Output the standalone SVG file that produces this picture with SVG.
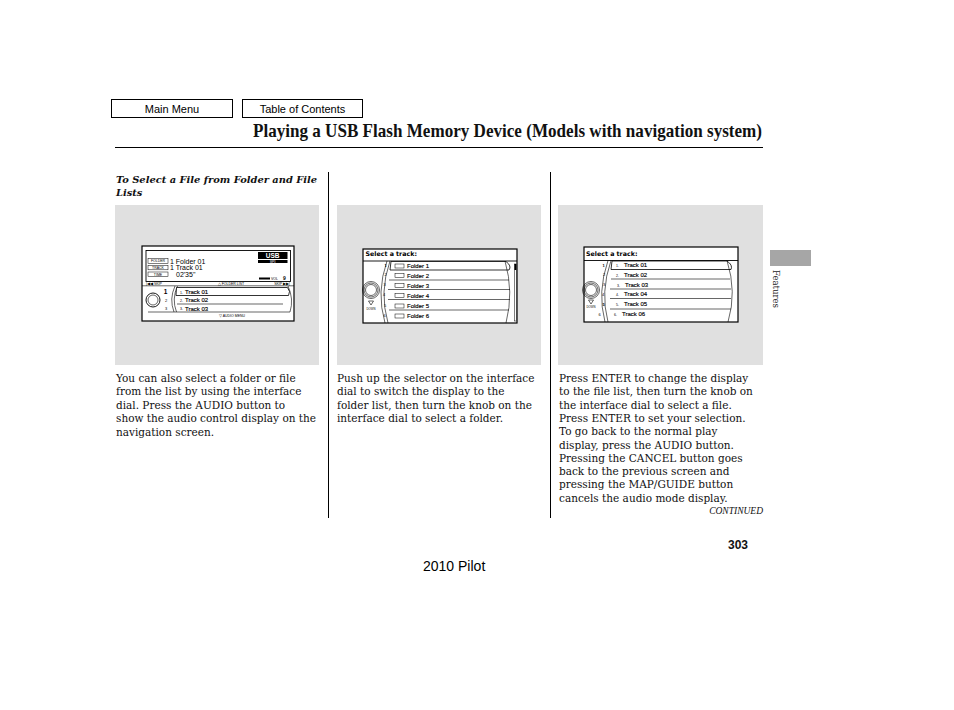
<svg xmlns="http://www.w3.org/2000/svg" width="954" height="710" viewBox="0 0 954 710">
<style>
.body{font-family:"DejaVu Serif","Liberation Serif",serif;font-size:10.5px;fill:#111}
.btn{fill:#fff;stroke:#000;stroke-width:1}
.btnt{font-family:"Liberation Sans",Arial,sans-serif;font-size:11px;text-anchor:middle;fill:#000}
.panel{fill:#e0e0e0}
.div{stroke:#000;stroke-width:1}
.scr{fill:#fff;stroke:#000;stroke-width:1.2}
.st{font-family:"Liberation Sans",Arial,sans-serif;font-size:6px;fill:#000;stroke:#000;stroke-width:0.15}
.sb{font-family:"DejaVu Sans","Liberation Sans",sans-serif;font-size:6.3px;font-weight:bold;fill:#000}
.tiny{font-family:"Liberation Sans",Arial,sans-serif;font-size:3.5px;fill:#000}
.num{font-family:"Liberation Sans",Arial,sans-serif;font-size:4px;fill:#000;text-anchor:middle}
.ln{stroke:#000;stroke-width:0.6;fill:none}
.lb{stroke:#000;stroke-width:0.9;fill:none}
.row{fill:#fff;stroke:#000;stroke-width:0.8}
.ic{fill:#fff;stroke:#000;stroke-width:0.5}
</style>
<rect width="954" height="710" fill="#fff"/>

<g id="header">
  <rect class="btn" x="111.5" y="99.5" width="121" height="18"/>
  <text class="btnt" x="172" y="112.5">Main Menu</text>
  <rect class="btn" x="242.5" y="99.5" width="120" height="18"/>
  <text class="btnt" x="302.5" y="112.5">Table of Contents</text>
  <text x="762" y="137" text-anchor="end" textLength="509" lengthAdjust="spacingAndGlyphs" font-family="Liberation Serif, serif" font-size="19" font-weight="bold" fill="#111">Playing a USB Flash Memory Device (Models with navigation system)</text>
  <line x1="115" y1="147.5" x2="763" y2="147.5" stroke="#000" stroke-width="1"/>
</g>

<g id="subheading">
  <text font-family="DejaVu Serif, Liberation Serif, serif" font-size="9.9" font-weight="bold" font-style="italic" fill="#111">
    <tspan x="116" y="183">To Select a File from Folder and File</tspan>
    <tspan x="116" y="196">Lists</tspan>
  </text>
</g>

<g id="dividers">
  <line class="div" x1="328.5" y1="172" x2="328.5" y2="518"/>
  <line class="div" x1="550.5" y1="172" x2="550.5" y2="518"/>
</g>

<g id="tab">
  <rect x="770" y="250" width="41" height="16" fill="#a6a6a6"/>
  <text transform="translate(773,270) rotate(90)" font-family="DejaVu Serif, Liberation Serif, serif" font-size="8.5" fill="#222">Features</text>
</g>

<!-- Panel 1 -->
<g id="panel1">
  <rect class="panel" x="115" y="205" width="204" height="160"/>
  <rect class="scr" x="142" y="246" width="152" height="75"/>
  <rect class="lb" x="146" y="250.5" width="144.5" height="31" stroke-width="0.8"/>
  <rect x="258" y="252" width="29.5" height="7" fill="#000"/>
  <text x="272.7" y="258.3" text-anchor="middle" font-family="Liberation Sans, sans-serif" font-size="6.5" font-weight="bold" fill="#fff">USB</text>
  <rect x="258" y="260" width="29.5" height="3" fill="#000"/>
  <text x="272.7" y="262.6" text-anchor="middle" font-family="Liberation Sans, sans-serif" font-size="2.6" fill="#fff">MP3</text>
  <rect class="ic" x="148" y="258.5" width="20" height="5"/>
  <text class="tiny" x="158" y="262.2" text-anchor="middle">FOLDER</text>
  <rect class="ic" x="148" y="265.3" width="20" height="4.5"/>
  <text class="tiny" x="158" y="268.8" text-anchor="middle">TRACK</text>
  <rect class="ic" x="148" y="272" width="20" height="4.5"/>
  <text class="tiny" x="158" y="275.5" text-anchor="middle">TIME</text>
  <text x="170" y="263.5" font-family="Liberation Sans, sans-serif" font-size="7">1 Folder 01</text>
  <text x="170" y="270" font-family="Liberation Sans, sans-serif" font-size="7">1 Track 01</text>
  <text x="176" y="276.5" font-family="Liberation Sans, sans-serif" font-size="7">02'35"</text>
  <rect x="259" y="277.5" width="11" height="2" fill="#000"/>
  <text class="tiny" x="271" y="279.8">VOL</text>
  <text x="283" y="280" font-family="Liberation Sans, sans-serif" font-size="5" font-weight="bold">9</text>
  <text class="tiny" x="146" y="284.8">|◀◀ SKIP</text>
  <text class="tiny" x="290" y="284.8" text-anchor="end">SKIP ▶▶|</text>
  <text class="tiny" x="231" y="284.8" text-anchor="middle">△ FOLDER LIST</text>
  <line class="ln" x1="142" y1="285.8" x2="294" y2="285.8"/>
  <circle class="lb" cx="153" cy="300" r="7"/>
  <circle class="ln" cx="153" cy="300" r="5"/>
  <text x="165.5" y="294" font-family="Liberation Sans, sans-serif" font-size="6.5" font-weight="bold" text-anchor="middle">1</text>
  <text class="num" x="166" y="302">2</text>
  <text class="num" x="166" y="310.3">3</text>
  <path class="ln" d="M175,286 Q169,299 174,312"/>
  <path class="ln" d="M177.5,286 Q171.5,299 176.5,312"/>
  <path class="row" d="M176.5,287.5 L287.5,287.5 Q291,291.5 288.5,295.5 L176,295.5 Z"/>
  <line class="ln" x1="177" y1="304" x2="283" y2="304"/>
  <path class="ln" d="M288,286 Q294,299 290,312"/>
  <line class="ln" x1="148" y1="312" x2="290" y2="312"/>
  <text class="tiny" x="180" y="293.5">1.</text>
  <text class="st" x="185" y="293.9">Track 01</text>
  <text class="tiny" x="180" y="302">2.</text>
  <text class="st" x="185" y="302.2">Track 02</text>
  <text class="tiny" x="180" y="310.2">3.</text>
  <text class="st" x="185" y="310.5">Track 03</text>
  <text class="tiny" x="232" y="317" text-anchor="middle">▽ AUDIO MENU</text>
  <text class="body">
    <tspan x="116" y="382">You can also select a folder or file</tspan>
    <tspan x="116" y="395.4">from the list by using the interface</tspan>
    <tspan x="116" y="408.8">dial. Press the AUDIO button to</tspan>
    <tspan x="116" y="422.2">show the audio control display on the</tspan>
    <tspan x="116" y="435.6">navigation screen.</tspan>
  </text>
</g>

<!-- Panel 2 -->
<g id="panel2">
  <rect class="panel" x="337" y="205" width="204" height="160"/>
  <rect class="scr" x="363" y="249" width="154" height="74"/>
  <text class="sb" x="365.5" y="256">Select a track:</text>
  <line class="lb" x1="363" y1="261" x2="517" y2="261"/>
  <circle class="ln" cx="371" cy="290" r="8.5"/>
  <circle class="ln" cx="371" cy="290" r="7"/>
  <circle class="ln" cx="371" cy="290" r="5.5"/>
  <path class="ln" d="M368.5,301 L373.5,301 L371,305 Z"/>
  <text x="371" y="309.5" text-anchor="middle" font-family="Liberation Sans, sans-serif" font-size="2.8">DOWN</text>
  <text class="num" x="385.5" y="266.5" font-weight="bold">1</text>
  <text class="num" x="385.5" y="276">2</text>
  <text class="num" x="384.5" y="286">3</text>
  <text class="num" x="384" y="296">4</text>
  <text class="num" x="385" y="306.5">5</text>
  <text class="num" x="384.5" y="317">6</text>
  <path class="ln" d="M387,261 Q376,292 385,323"/>
  <path class="ln" d="M390,261 Q379,292 388,323"/>
  <path class="row" d="M391,261.5 L506,261.5 Q512,266 509,270 L390,270 Z"/>
  <line class="ln" x1="389" y1="280" x2="509" y2="280"/>
  <line class="ln" x1="388" y1="289.5" x2="510" y2="289.5"/>
  <line class="ln" x1="388" y1="299.5" x2="510" y2="299.5"/>
  <line class="ln" x1="389" y1="310" x2="509" y2="310"/>
  <path class="ln" d="M505,261 Q514,292 506,323"/>
  <rect class="ic" x="514.5" y="264" width="1.8" height="57"/>
  <rect x="514.5" y="264" width="1.8" height="6" fill="#000"/>
  <rect class="ic" x="395" y="264" width="9" height="4"/>
  <rect class="ic" x="395" y="273.7" width="9" height="4"/>
  <rect class="ic" x="395" y="283.3" width="9" height="4"/>
  <rect class="ic" x="395" y="293.3" width="9" height="4"/>
  <rect class="ic" x="395" y="304" width="9" height="4"/>
  <rect class="ic" x="395" y="314" width="9" height="4"/>
  <text class="st" x="407" y="268.2">Folder 1</text>
  <text class="st" x="407" y="277.9">Folder 2</text>
  <text class="st" x="407" y="287.5">Folder 3</text>
  <text class="st" x="407" y="297.5">Folder 4</text>
  <text class="st" x="407" y="308.2">Folder 5</text>
  <text class="st" x="407" y="318.2">Folder 6</text>
  <text class="body">
    <tspan x="337" y="382">Push up the selector on the interface</tspan>
    <tspan x="337" y="395.4">dial to switch the display to the</tspan>
    <tspan x="337" y="408.8">folder list, then turn the knob on the</tspan>
    <tspan x="337" y="422.2">interface dial to select a folder.</tspan>
  </text>
</g>

<!-- Panel 3 -->
<g id="panel3">
  <rect class="panel" x="558" y="205" width="205" height="160"/>
  <rect class="scr" x="584" y="247" width="154" height="75"/>
  <text class="sb" x="586" y="255.5">Select a track:</text>
  <line class="lb" x1="584" y1="260.5" x2="738" y2="260.5"/>
  <circle class="ln" cx="591" cy="290" r="8.5"/>
  <circle class="ln" cx="591" cy="290" r="7"/>
  <circle class="ln" cx="591" cy="290" r="5.5"/>
  <path class="ln" d="M588.5,300 L593.5,300 L591,304 Z"/>
  <text x="591" y="307.5" text-anchor="middle" font-family="Liberation Sans, sans-serif" font-size="2.8">DOWN</text>
  <text class="num" x="603.5" y="266.5" font-weight="bold">1</text>
  <text class="num" x="604" y="276">2</text>
  <text class="num" x="604" y="286">3</text>
  <text class="num" x="603" y="295.7">4</text>
  <text class="num" x="603.5" y="305.7" font-weight="bold">5</text>
  <text class="num" x="599.5" y="315.7">6</text>
  <path class="ln" d="M608,260.5 Q597,292 605,322"/>
  <path class="ln" d="M611,260.5 Q600,292 608,322"/>
  <path class="row" d="M612,261 L727,261 Q733,265 731,269.5 L611,269.5 Z"/>
  <line class="ln" x1="611" y1="279" x2="730" y2="279"/>
  <line class="ln" x1="610" y1="289" x2="731" y2="289"/>
  <line class="ln" x1="610" y1="298.5" x2="731" y2="298.5"/>
  <line class="ln" x1="610" y1="309" x2="731" y2="309"/>
  <path class="ln" d="M727,260.5 Q737,292 728,322"/>
  <text class="tiny" x="616" y="266.5">1.</text>
  <text class="tiny" x="616" y="276.5">2.</text>
  <text class="tiny" x="617" y="286.5">3.</text>
  <text class="tiny" x="616" y="296.2">4.</text>
  <text class="tiny" x="616" y="306.2">5.</text>
  <text class="tiny" x="614" y="316.2">6.</text>
  <text class="st" x="624" y="266.5">Track 01</text>
  <text class="st" x="624" y="276.5">Track 02</text>
  <text class="st" x="625" y="286.5">Track 03</text>
  <text class="st" x="624" y="296.2">Track 04</text>
  <text class="st" x="624" y="306.2">Track 05</text>
  <text class="st" x="622" y="316.2">Track 06</text>
  <text class="body">
    <tspan x="559" y="382">Press ENTER to change the display</tspan>
    <tspan x="559" y="395.3">to the file list, then turn the knob on</tspan>
    <tspan x="559" y="408.6">the interface dial to select a file.</tspan>
    <tspan x="559" y="421.9">Press ENTER to set your selection.</tspan>
    <tspan x="559" y="435.2">To go back to the normal play</tspan>
    <tspan x="559" y="448.5">display, press the AUDIO button.</tspan>
    <tspan x="559" y="461.8">Pressing the CANCEL button goes</tspan>
    <tspan x="559" y="475.1">back to the previous screen and</tspan>
    <tspan x="559" y="488.4">pressing the MAP/GUIDE button</tspan>
    <tspan x="559" y="501.7">cancels the audio mode display.</tspan>
  </text>
</g>

<g id="footer">
  <text x="763" y="514" text-anchor="end" font-family="Liberation Serif, serif" font-size="9.5" font-style="italic" fill="#111">CONTINUED</text>
  <text x="748" y="549" text-anchor="end" font-family="Liberation Sans, Arial, sans-serif" font-size="12" font-weight="bold" fill="#111">303</text>
  <text x="423" y="571" font-family="Liberation Sans, Arial, sans-serif" font-size="14" fill="#000">2010 Pilot</text>
</g>
</svg>
